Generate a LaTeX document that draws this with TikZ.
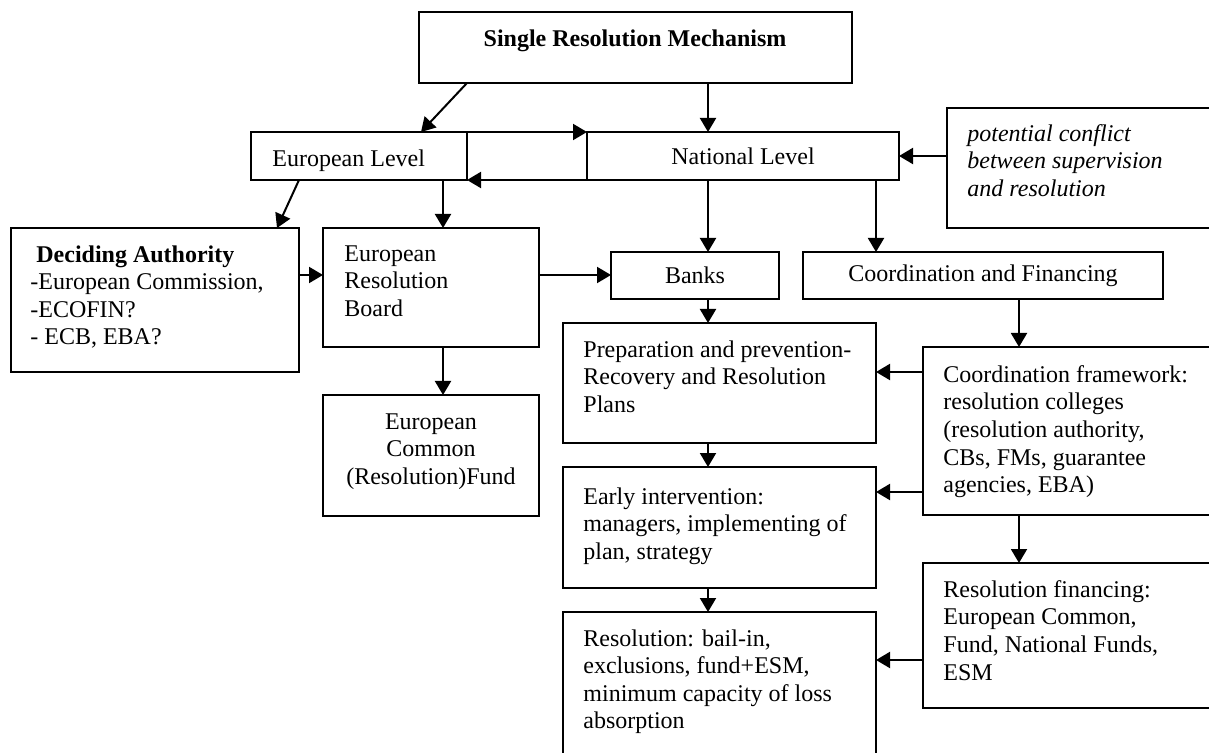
\documentclass[tikz,border=0pt]{standalone}
\usepackage{fontspec}
\setmainfont{Liberation Serif}
\usetikzlibrary{arrows.meta}

\tikzset{
  box/.style={draw, line width=1pt, inner sep=0pt, outer sep=0pt, anchor=north west, font=\fontsize{12}{13.8}\selectfont},
  txt/.style={inner sep=0pt, anchor=north west, align=left, font=\fontsize{12}{13.8}\selectfont},
  arr/.style={line width=1pt, -{Triangle[length=7pt,width=8pt]}}
}

\begin{document}
\begin{tikzpicture}[x=0.5pt, y=-0.5pt]
        \useasboundingbox (0,0) rectangle (1209,753);
        \clip (0,0) rectangle (1209,753);
        % boxes
        \node[box, minimum width=216.5pt, minimum height=35.5pt] (srm) at (419,12) {};
        \node[box, minimum width=108pt, minimum height=24pt] (el) at (251,132) {};
        \node[box, minimum width=156pt, minimum height=24pt] (nl) at (587,132) {National Level};
        \node[box, minimum width=141.5pt, minimum height=60pt] (pc) at (947,108) {};
        \node[box, minimum width=144pt, minimum height=72pt] (da) at (11,228) {};
        \node[box, minimum width=108pt, minimum height=59.5pt] (erb) at (323,228) {};
        \node[box, minimum width=84pt, minimum height=23.5pt] (banks) at (611,252) {Banks};
        \node[box, minimum width=180pt, minimum height=23.5pt] (cfin) at (803,252) {Coordination and Financing};
        \node[box, minimum width=108pt, minimum height=60.5pt] (fund) at (323,395) {};
        \node[box, minimum width=156.5pt, minimum height=60pt] (prep) at (563,323) {};
        \node[box, minimum width=156.5pt, minimum height=60.5pt] (ei) at (563,467) {};
        \node[box, minimum width=156.5pt, minimum height=84pt] (res) at (563,612) {};
        \node[box, minimum width=153.5pt, minimum height=84pt] (cfw) at (923,347) {};
        \node[box, minimum width=153.5pt, minimum height=72.5pt] (rf) at (923,563) {};
        % texts
        \node[txt, anchor=north, align=center] (srm-t) at (635,29) {\textbf{Single Resolution Mechanism}};
        \node[txt] (el-t) at (272,149) {European Level};
        \node[txt, font=\fontsize{12}{13.8}\selectfont\itshape] (pc-t) at (967,124) {potential conflict\\between supervision\\and resolution};
        \node[txt] (da-t) at (30,245) {\hspace*{3pt}\textbf{Deciding Authority}\\-European Commission,\\-ECOFIN?\\- ECB, EBA?};
        \node[txt] (erb-t) at (344,245) {European\\Resolution\\Board};
        \node[txt, anchor=north, align=center] (fund-t) at (431,413) {European\\Common\\(Resolution)Fund};
        \node[txt] (prep-t) at (583,340) {Preparation and prevention-\\Recovery and Resolution\\Plans};
        \node[txt] (ei-t) at (583,487) {Early intervention:\\managers, implementing of\\plan, strategy};
        \node[txt] (res-t) at (583,629) {Resolution: bail-in,\\exclusions, fund+ESM,\\minimum capacity of loss\\absorption};
        \node[txt] (cfw-t) at (943,365) {Coordination framework:\\resolution colleges\\(resolution authority,\\CBs, FMs, guarantee\\agencies, EBA)};
        \node[txt] (rf-t) at (943,580) {Resolution financing:\\European Common,\\Fund, National Funds,\\ESM};
        % guide lines for the connectors
        \coordinate (spine) at (708,0);
        \coordinate (eu) at (443,0);
        \coordinate (nat) at (876,0);
        \coordinate (side) at (1019,0);
        \coordinate (r0) at (0,275);
        \coordinate (r1) at (0,372);
        \coordinate (r2) at (0,492);
        \coordinate (r3) at (0,660);
        % arrows
        \draw[arr] ([shift={(48,0)}]srm.south west) -- ([shift={(170,0)}]el.north west);
        \draw[arr] (srm.south -| spine) -- (nl.north -| spine);
        \draw[arr] (el.north east) -- (nl.north west);
        \draw[arr] (nl.south west) -- (el.south east);
        \draw[arr] (pc.west |- nl.east) -- (nl.east);
        \draw[arr] ([shift={(48,0)}]el.south west) -- ([shift={(-22,0)}]da.north east);
        \draw[arr] (el.south -| eu) -- (erb.north -| eu);
        \draw[arr] (da.east |- r0) -- (erb.west |- r0);
        \draw[arr] (erb.east |- r0) -- (banks.west |- r0);
        \draw[arr] (erb.south -| eu) -- (fund.north -| eu);
        \draw[arr] (nl.south -| spine) -- (banks.north -| spine);
        \draw[arr] (nl.south -| nat) -- (cfin.north -| nat);
        \draw[arr] (banks.south -| spine) -- (prep.north -| spine);
        \draw[arr] (prep.south -| spine) -- (ei.north -| spine);
        \draw[arr] (ei.south -| spine) -- (res.north -| spine);
        \draw[arr] (cfin.south -| side) -- (cfw.north -| side);
        \draw[arr] (cfw.south -| side) -- (rf.north -| side);
        \draw[arr] (cfw.west |- r1) -- (prep.east |- r1);
        \draw[arr] (cfw.west |- r2) -- (ei.east |- r2);
        \draw[arr] (rf.west |- r3) -- (res.east |- r3);
    \end{tikzpicture}
\end{document}
